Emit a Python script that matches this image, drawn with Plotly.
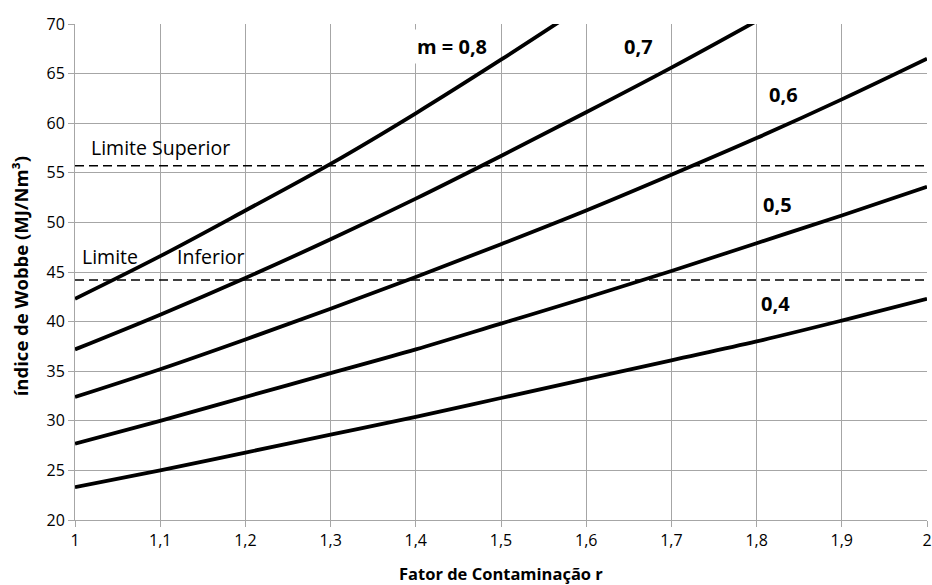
import plotly.graph_objects as go

r_vals = [1.0, 1.1, 1.2, 1.3, 1.4, 1.5, 1.6, 1.7, 1.8, 1.9, 2.0]
w_m08 = [42.3, 46.6, 51.2, 55.9, 61.0, 66.4, 72.0]
w_m07 = [37.2, 40.7, 44.4, 48.3, 52.4, 56.7, 61.1, 65.6, 70.3]
w_m06 = [32.4, 35.2, 38.2, 41.3, 44.5, 47.8, 51.2, 54.8, 58.5, 62.4, 66.5]
w_m05 = [27.7, 30.0, 32.4, 34.8, 37.2, 39.8, 42.4, 45.1, 47.9, 50.7, 53.6]
w_m04 = [23.3, 25.0, 26.8, 28.6, 30.4, 32.3, 34.2, 36.1, 38.0, 40.1, 42.3]
series = [w_m08, w_m07, w_m06, w_m05, w_m04]

limite_superior = 55.7
limite_inferior = 44.2

x_ticks = [1.0, 1.1, 1.2, 1.3, 1.4, 1.5, 1.6, 1.7, 1.8, 1.9, 2.0]
x_ticktext = ["1", "1,1", "1,2", "1,3", "1,4", "1,5", "1,6", "1,7", "1,8", "1,9", "2"]
y_ticks = [20, 25, 30, 35, 40, 45, 50, 55, 60, 65, 70]

curve_labels = ["m = 0,8", "0,7", "0,6", "0,5", "0,4"]
label_x = [1.443, 1.661, 1.831, 1.825, 1.822]
label_y = [67.7, 67.7, 62.9, 51.8, 41.8]

FONT = "Open Sans"
fig = go.Figure()

for ys in series:
    fig.add_trace(go.Scatter(x=r_vals[:len(ys)], y=ys, mode="lines",
                             line=dict(color="black", width=3.8, shape="spline"),
                             showlegend=False, hoverinfo="skip"))

for lim in [limite_superior, limite_inferior]:
    fig.add_trace(go.Scatter(x=[1.0, 2.0], y=[lim, lim], mode="lines",
                             line=dict(color="black", width=1.5, dash="9px,5px"),
                             showlegend=False, hoverinfo="skip"))

for txt, lx, ly in zip(curve_labels, label_x, label_y):
    fig.add_annotation(x=lx, y=ly, text="<b>" + txt + "</b>", showarrow=False,
                       font=dict(family=FONT, size=20, color="black"),
                       bgcolor="white", borderpad=3)

fig.add_annotation(x=1.1, y=57.6, text="Limite Superior", showarrow=False,
                   font=dict(family=FONT, size=19.5, color="black"))
fig.add_annotation(x=1.041, y=46.6, text="Limite", showarrow=False,
                   font=dict(family=FONT, size=19.5, color="black"))
fig.add_annotation(x=1.16, y=46.6, text="Inferior", showarrow=False,
                   font=dict(family=FONT, size=19.5, color="black"))

# axis titles
fig.add_annotation(xref="paper", yref="paper", x=0.5, y=-0.108,
                   xanchor="center", yanchor="middle", showarrow=False,
                   text="<b>Fator de Contaminação r</b>",
                   font=dict(family=FONT, size=16.5, color="black"))
fig.add_annotation(xref="paper", yref="paper", x=-0.063, y=0.492,
                   xanchor="center", yanchor="middle", showarrow=False,
                   textangle=-90,
                   text="<b>índice de Wobbe (MJ/Nm³)</b>",
                   font=dict(family=FONT, size=18.5, color="black"))

fig.update_layout(
    width=932, height=585,
    margin=dict(l=75, r=5, t=24, b=65),
    plot_bgcolor="white", paper_bgcolor="white",
    font=dict(family=FONT, size=16, color="black"),
)
fig.update_xaxes(
    range=[1, 2], tickvals=x_ticks, ticktext=x_ticktext,
    showgrid=True, gridcolor="#a6a6a6", gridwidth=1,
    showline=True, linecolor="#a6a6a6", linewidth=1,
    ticks="outside", ticklen=6, tickcolor="#a6a6a6",
    tickfont=dict(family=FONT, size=16),
    zeroline=False, automargin=False,
)
fig.update_yaxes(
    range=[20, 70], tickvals=y_ticks,
    showgrid=True, gridcolor="#a6a6a6", gridwidth=1,
    showline=True, linecolor="#a6a6a6", linewidth=1,
    ticks="outside", ticklen=6, tickcolor="#a6a6a6",
    tickfont=dict(family=FONT, size=16),
    zeroline=False, automargin=False,
)

# remove the browser's default 8px body margin so the figure fills the window exactly
fig.write_html("out.html",
               config={"displayModeBar": False},
               post_script="document.body.style.margin='0';document.body.style.overflow='hidden';")
